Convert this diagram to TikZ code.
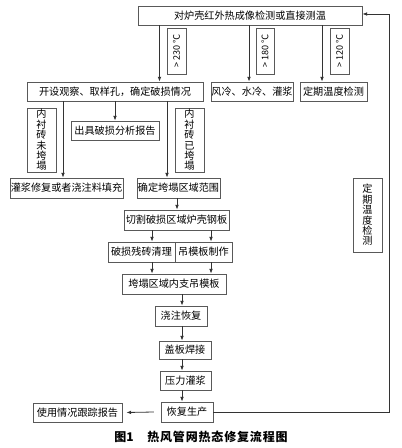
\documentclass[tikz,border=0pt]{standalone}
\usepackage{fontspec}
\setmainfont{Noto Sans CJK SC}
\usetikzlibrary{arrows.meta}
\begin{document}
\begin{tikzpicture}[x=0.75pt,y=-0.75pt,
  box/.style n args={2}{draw=black!65, line width=0.6pt,
    minimum width={#1*0.75pt}, minimum height={#2*0.75pt},
    inner sep=0pt, font=\fontsize{7.6}{9}\selectfont},
  vbox/.style n args={2}{box={#1}{#2}, align=center,
    font=\fontsize{7.6}{7.8}\selectfont},
  lbl/.style n args={2}{box={#1}{#2}, font=\fontsize{6.8}{8}\selectfont},
  arr/.style={draw=black!80, line width=0.6pt, -{Latex[length=3.6pt,width=2.8pt]}},
  ln/.style={draw=black!80, line width=0.6pt}]
\useasboundingbox (0,0) rectangle (401,448);

% main nodes
\node[box={224}{19}] (top) at (250,15.5) {对炉壳红外热成像检测或直接测温};
\node[box={176}{19}] (open) at (115,91.5) {开设观察、取样孔，确定破损情况};
\node[box={82}{19}] (cool) at (252,91.5) {风冷、水冷、灌浆};
\node[box={67}{19}] (check) at (333.5,91.5) {定期温度检测};

\node[lbl={19}{46}] (t230) at (176.5,51) {\rotatebox{90}{> 230 ℃}};
\node[lbl={18}{46}] (t180) at (265,51) {\rotatebox{90}{> 180 ℃}};
\node[lbl={19}{46}] (t120) at (339.5,51) {\rotatebox{90}{> 120 ℃}};

\node[box={88}{19}] (report) at (115,130.5) {出具破损分析报告};
\node[box={113}{20}] (fill) at (66.5,188) {灌浆修复或者浇注料填充};
\node[box={83}{20}] (range) at (178.5,188) {确定垮塌区域范围};

\node[vbox={29}{64}] (notcol) at (41.5,140) {内\\衬\\砖\\未\\垮\\塌};
\node[vbox={29}{64}] (col) at (189.5,140) {内\\衬\\砖\\已\\垮\\塌};
\node[vbox={29}{74}] (period) at (367.5,215) {定\\期\\温\\度\\检\\测};

\node[box={105}{20}] (cut) at (176.5,220) {切割破损区域炉壳钢板};
\node[box={67}{20}] (clean) at (141.5,252) {破损残砖清理};
\node[box={57}{20}] (mold) at (203.5,252) {吊模板制作};
\node[box={104}{20}] (support) at (174,284) {垮塌区域内支吊模板};
\node[box={52}{20}] (pour) at (181,316) {浇注恢复};
\node[box={52}{18}] (weld) at (185,350) {盖板焊接};
\node[box={51}{19}] (grout) at (185.5,380.5) {压力灌浆};
\node[box={52}{20}] (resume) at (187,412) {恢复生产};
\node[box={89}{19}] (track) at (77.5,412.5) {使用情况跟踪报告};

% connectors
\draw[arr] (top.south -| 159.5,0) -- (open.north -| 159.5,0);
\draw[arr] (top.south -| 249,0) -- (cool.north -| 249,0);
\draw[arr] (top.south -| 322,0) -- (check.north -| 322,0);

\draw[arr] (open.south -| 63,0) -- (fill.north -| 63,0);
\draw[arr] (open.south -| 115,0) -- (report.north);
\draw[arr] (open.south -| 167,0) -- (range.north -| 167,0);

\draw[arr] (range.south -| 177,0) -- (cut.north -| 177,0);
\draw[arr] (cut.south -| 152,0) -- (clean.north -| 152,0);
\draw[arr] (cut.south -| 211,0) -- (mold.north -| 211,0);
\draw[arr] (clean.south -| 152,0) -- (support.north -| 152,0);
\draw[arr] (mold.south -| 211,0) -- (support.north -| 211,0);
\draw[arr] (support.south -| 182,0) -- (pour.north -| 182,0);
\draw[arr] (pour.south -| 182,0) -- (weld.north -| 182,0);
\draw[arr] (weld.south -| 182,0) -- (grout.north -| 182,0);
\draw[arr] (grout.south -| 182,0) -- (resume.north -| 182,0);

\draw[arr] ([xshift=-5pt]resume.west) -- ([xshift=3pt]track.east);

\coordinate (fb) at (389,14);
\draw[arr] (resume.east) -| (fb) -- (top.east |- fb);

% caption
\node[anchor=west, inner sep=0pt, font=\fontsize{9}{10}\selectfont\bfseries] (cap1) at (114,437) {图1};
\node[anchor=west, inner sep=0pt, font=\fontsize{9}{10}\selectfont\bfseries\addfontfeature{LetterSpace=7}] (cap2) at (147,437) {热风管网热态修复流程图};
\end{tikzpicture}
\end{document}
